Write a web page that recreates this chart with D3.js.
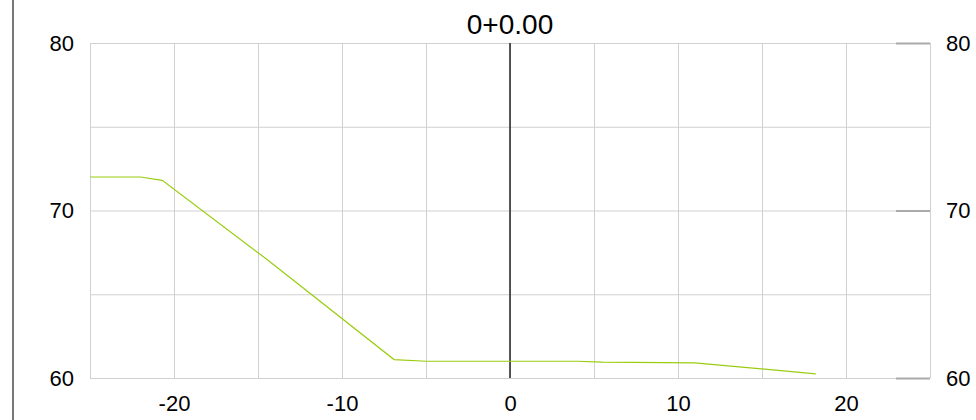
<!DOCTYPE html>
<html>
<head>
<meta charset="utf-8">
<script src="https://cdn.jsdelivr.net/npm/d3@7"></script>
<style>
  body { margin: 0; background: #fff; }
  svg text { font-family: "Liberation Sans", Arial, sans-serif; fill: #000; }
</style>
</head>
<body>
<script>
// profile: offset vs elevation
var offsets = [-25, -22, -20.7, -14.5, -6.9, -5, 4, 5.5, 11, 18.2];
var elevations = [72.0, 72.0, 71.8, 67.1, 61.1, 61.0, 61.0, 60.95, 60.9, 60.25];
var xTicks = [-20, -10, 0, 10, 20];
var yTicks = [60, 70, 80];
var title = "0+0.00";

var width = 976, height = 420;
var plot = { left: 90, right: 930, top: 43, bottom: 378 };

var svg = d3.select('body')
  .append('svg')
  .attr('width', width)
  .attr('height', height);

var xScale = d3.scaleLinear()
  .domain([-25, 25])
  .range([plot.left, plot.right]);

var yScale = d3.scaleLinear()
  .domain([60, 80])
  .range([plot.bottom, plot.top]);

// plain hyphen for negatives, like the original
var plainFormat = function(d) { return String(d); };

// left border of the panel
svg.append('line')
  .attr('x1', 13).attr('x2', 13)
  .attr('y1', 0).attr('y2', height)
  .attr('stroke', '#777')
  .attr('stroke-width', 2);

// grid
var xGrid = d3.axisBottom(xScale)
  .tickValues(d3.range(-25, 26, 5))
  .tickSize(-(plot.bottom - plot.top))
  .tickFormat('');
var xGridNodes = svg.append('g')
  .attr('transform', 'translate(0,' + plot.bottom + ')')
  .call(xGrid);

var yGrid = d3.axisLeft(yScale)
  .tickValues(d3.range(60, 81, 5))
  .tickSize(-(plot.right - plot.left))
  .tickFormat('');
var yGridNodes = svg.append('g')
  .attr('transform', 'translate(' + plot.left + ',0)')
  .call(yGrid);

styleGrid(xGridNodes);
styleGrid(yGridNodes);

// zero line
svg.append('line')
  .attr('x1', xScale(0)).attr('x2', xScale(0))
  .attr('y1', yScale(80)).attr('y2', yScale(60))
  .attr('stroke', '#222')
  .attr('stroke-width', 1.5);

// axes labels
var yAxisLeft = d3.axisLeft(yScale).tickValues(yTicks).tickFormat(plainFormat)
  .tickSize(0).tickPadding(16);
var leftNodes = svg.append('g')
  .attr('transform', 'translate(' + plot.left + ',0)')
  .call(yAxisLeft);

var yAxisRight = d3.axisRight(yScale).tickValues(yTicks).tickFormat(plainFormat)
  .tickSizeInner(-34).tickSizeOuter(0).tickPadding(16);
var rightNodes = svg.append('g')
  .attr('transform', 'translate(' + plot.right + ',0)')
  .call(yAxisRight);
rightNodes.selectAll('.tick line')
  .attr('stroke', '#aaa')
  .attr('stroke-width', 2);

var xAxis = d3.axisBottom(xScale).tickValues(xTicks).tickFormat(plainFormat)
  .tickSize(0).tickPadding(17);
var xNodes = svg.append('g')
  .attr('transform', 'translate(0,' + plot.bottom + ')')
  .call(xAxis);

[leftNodes, rightNodes, xNodes].forEach(function(n) {
  n.select('.domain').remove();
  n.selectAll('text')
    .attr('font-size', 22)
    .attr('fill', '#000')
    .style('font-family', '"Liberation Sans", Arial, sans-serif');
});

// title
svg.append('text')
  .attr('x', xScale(0))
  .attr('y', 34)
  .attr('text-anchor', 'middle')
  .attr('font-size', 28)
  .text(title);

// profile line
var line = d3.line()
  .x(function(d, i) { return xScale(offsets[i]); })
  .y(function(d) { return yScale(d); });

svg.append('path')
  .datum(elevations)
  .attr('d', line)
  .attr('fill', 'none')
  .attr('stroke', '#9acd10')
  .attr('stroke-width', 1.2);

function styleGrid(nodes) {
  nodes.select('.domain').remove();
  nodes.selectAll('.tick line')
    .attr('stroke', '#d0d0d0')
    .attr('stroke-width', 1);
}
</script>
</body>
</html>
